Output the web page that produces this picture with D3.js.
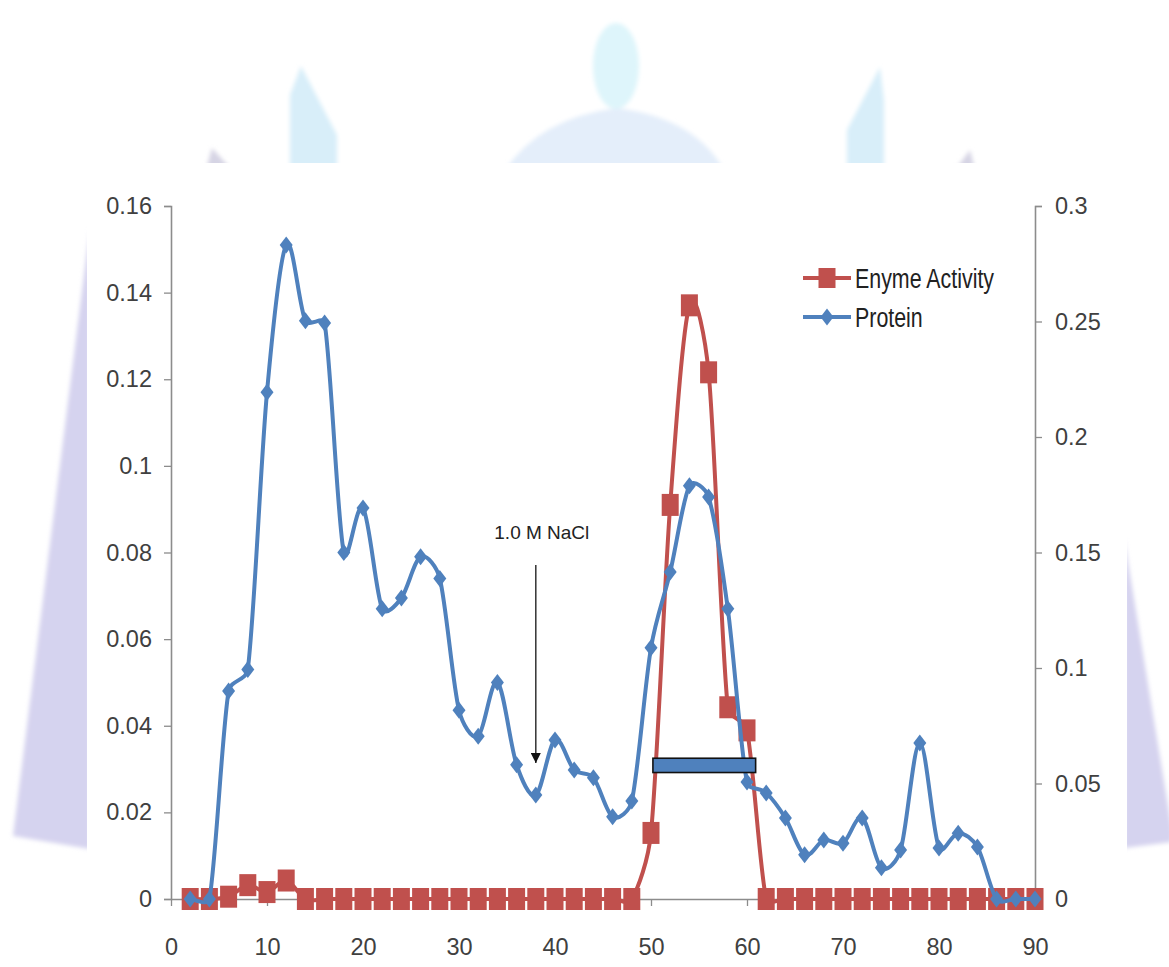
<!DOCTYPE html>
<html>
<head>
<meta charset="utf-8">
<script src="https://cdn.jsdelivr.net/npm/d3@7"></script>
<style>
  html, body { margin: 0; padding: 0; background: #ffffff; }
  svg { display: block; }
</style>
</head>
<body>
<svg id="chart" width="1169" height="967"></svg>
<script>
// Fraction numbers collected from the column
const fractions = [2, 4, 6, 8, 10, 12, 14, 16, 18, 20, 22, 24, 26, 28, 30, 32, 34, 36, 38, 40,
                   42, 44, 46, 48, 50, 52, 54, 56, 58, 60, 62, 64, 66, 68, 70, 72, 74, 76, 78, 80,
                   82, 84, 86, 88, 90];

// Protein absorbance per fraction (left axis)
const protein = [0, 0, 0.048, 0.053, 0.117, 0.151, 0.1335, 0.133, 0.080, 0.0903,
                 0.067, 0.0695, 0.079, 0.074, 0.0436, 0.0376, 0.050, 0.031, 0.024, 0.0367,
                 0.0298, 0.028, 0.019, 0.0226, 0.058, 0.0755, 0.0954, 0.0928, 0.067, 0.027,
                 0.0245, 0.0187, 0.0102, 0.0136, 0.0129, 0.0187, 0.0072, 0.0113, 0.036, 0.0118,
                 0.0152, 0.012, 0, 0, 0];

// Enzyme activity per fraction (right axis)
const enzymeActivity = [0, 0, 0.001, 0.006, 0.003, 0.008, 0, 0, 0, 0,
                        0, 0, 0, 0, 0, 0, 0, 0, 0, 0,
                        0, 0, 0, 0, 0.0286, 0.1706, 0.257, 0.228, 0.083, 0.073,
                        0, 0, 0, 0, 0, 0, 0, 0, 0, 0,
                        0, 0, 0, 0, 0];

const xTicks = [0, 10, 20, 30, 40, 50, 60, 70, 80, 90];
const leftTicks = [0, 0.02, 0.04, 0.06, 0.08, 0.1, 0.12, 0.14, 0.16];
const rightTicks = [0, 0.05, 0.1, 0.15, 0.2, 0.25, 0.3];

const seriesNames = ["Enyme Activity", "Protein"];
const saltLabel = "1.0 M NaCl";
const saltFraction = 38;            // salt step applied here
const saltArrowFrom = 0.0771;       // arrow start (left-axis units)
const saltArrowTo = 0.0314;         // arrow tip (left-axis units)
const poolRange = [50.2, 60.9];     // pooled active fractions
const poolBand = [0.0292, 0.0325];  // bar extent in left-axis units

const COLORS = { enzyme: "#c0504d", protein: "#4f81bd", axis: "#8c8c8c", text: "#404040" };
const FONT = "'Liberation Sans', Arial, sans-serif";

const svg = d3.select("#chart");

// ---- faint page artwork behind the chart ----
const defs = svg.append("defs");
defs.append("filter").attr("id", "soft")
  .append("feGaussianBlur").attr("stdDeviation", 2.2);

const art = svg.append("g").attr("filter", "url(#soft)");
// left and right lavender wedges
art.append("path").attr("d", "M90,228 L13,836 L90,849 Z").attr("fill", "#d5d3ef");
art.append("path").attr("d", "M1124,538 L1172,830 L1172,842 L1124,848 Z").attr("fill", "#d5d3ef");
// upper pale shapes: figure, spikes and small wedges
art.append("path").attr("d", "M505,170 Q540,118 617,108 Q695,118 724,170 Z").attr("fill", "#e4eefa");
art.append("ellipse").attr("cx", 616).attr("cy", 66).attr("rx", 23).attr("ry", 43).attr("fill", "#def5fb");
art.append("path").attr("d", "M290,170 L290,95 L301,66 L337,135 L337,170 Z").attr("fill", "#d8eef9");
art.append("path").attr("d", "M847,170 L847,130 L880,67 L884,100 L884,170 Z").attr("fill", "#d8eef9");
art.append("path").attr("d", "M206,170 L212,148 L230,168 Z").attr("fill", "#d6d4e4");
art.append("path").attr("d", "M955,170 L970,150 L975,170 Z").attr("fill", "#d6d4e4");

// white chart area
svg.append("rect").attr("x", 87).attr("y", 163).attr("width", 1040).attr("height", 804).attr("fill", "#ffffff");

// ---- scales ----
const x = d3.scaleLinear().domain([0, 90]).range([171, 1035]);
const yL = d3.scaleLinear().domain([0, 0.16]).range([899, 206]);
const yR = d3.scaleLinear().domain([0, 0.3]).range([899, 206]);

const fmt = d => String(+d.toFixed(2));

function styleAxis(g) {
  g.selectAll("path.domain").attr("stroke", COLORS.axis).attr("stroke-width", 1.6);
  g.selectAll(".tick line").attr("stroke", COLORS.axis).attr("stroke-width", 1.3);
  g.selectAll(".tick text").attr("fill", COLORS.text)
    .style("font-family", FONT).style("font-size", "23.5px");
}

svg.append("g").attr("transform", `translate(0,${yL(0)})`)
  .call(d3.axisBottom(x).tickValues(xTicks).tickFormat(d3.format("d"))
        .tickSizeInner(7).tickSizeOuter(0).tickPadding(32))
  .call(styleAxis);

svg.append("g").attr("transform", `translate(${x(0)},0)`)
  .call(d3.axisLeft(yL).tickValues(leftTicks).tickFormat(fmt)
        .tickSizeInner(7).tickSizeOuter(7).tickPadding(12))
  .call(styleAxis);

svg.append("g").attr("transform", `translate(${x(90)},0)`)
  .call(d3.axisRight(yR).tickValues(rightTicks).tickFormat(fmt)
        .tickSizeInner(7).tickSizeOuter(7).tickPadding(13))
  .call(styleAxis);

// ---- smoothed line: Catmull-Rom style handles (chord / 6), each handle
// limited to a share of its own segment so short segments don't overshoot ----
function smoothPath(pts, share = 0.4) {
  const p = d3.path();
  const n = pts.length;
  const dist = (a, b) => Math.hypot(b[0] - a[0], b[1] - a[1]);
  const handle = (i, dir) => {
    const a = pts[Math.max(0, i - 1)], b = pts[Math.min(n - 1, i + 1)];
    const chord = dist(a, b) || 1;
    const side = dist(pts[i], pts[i + dir]);
    const len = Math.min(chord / 6, side * share);
    return [dir * (b[0] - a[0]) / chord * len, dir * (b[1] - a[1]) / chord * len];
  };
  p.moveTo(pts[0][0], pts[0][1]);
  for (let i = 0; i < n - 1; i++) {
    const a = pts[i], b = pts[i + 1];
    const ha = handle(i, 1), hb = handle(i + 1, -1);
    p.bezierCurveTo(a[0] + ha[0], a[1] + ha[1], b[0] + hb[0], b[1] + hb[1], b[0], b[1]);
  }
  return p.toString();
}

// ---- series ----
const enzymePts = fractions.map((fr, i) => [x(fr), yR(enzymeActivity[i])]);
const proteinPts = fractions.map((fr, i) => [x(fr), yL(protein[i])]);

const SQ_W = 17, SQ_H = 22, DM_W = 13, DM_H = 17;
const diamond = (cx, cy) => `M${cx},${cy - DM_H / 2} L${cx + DM_W / 2},${cy} L${cx},${cy + DM_H / 2} L${cx - DM_W / 2},${cy} Z`;

svg.append("path").attr("d", smoothPath(enzymePts)).attr("fill", "none")
  .attr("stroke", COLORS.enzyme).attr("stroke-width", 4).attr("stroke-linejoin", "round");
svg.append("g").selectAll("rect").data(enzymePts).join("rect")
  .attr("x", d => d[0] - SQ_W / 2).attr("y", d => d[1] - SQ_H / 2)
  .attr("width", SQ_W).attr("height", SQ_H).attr("fill", COLORS.enzyme);

svg.append("path").attr("d", smoothPath(proteinPts)).attr("fill", "none")
  .attr("stroke", COLORS.protein).attr("stroke-width", 4).attr("stroke-linejoin", "round");
svg.append("g").selectAll("path").data(proteinPts).join("path")
  .attr("d", d => diamond(d[0], d[1])).attr("fill", COLORS.protein);

// ---- annotations ----
defs.append("marker").attr("id", "arrowHead").attr("viewBox", "0 0 10 10")
  .attr("refX", 10).attr("refY", 5).attr("markerWidth", 10).attr("markerHeight", 10)
  .attr("markerUnits", "userSpaceOnUse").attr("orient", "auto")
  .append("path").attr("d", "M0,0 L10,5 L0,10 Z").attr("fill", "#111");

svg.append("line")
  .attr("x1", x(saltFraction)).attr("x2", x(saltFraction))
  .attr("y1", yL(saltArrowFrom)).attr("y2", yL(saltArrowTo))
  .attr("stroke", "#333").attr("stroke-width", 1.5).attr("marker-end", "url(#arrowHead)");
svg.append("text").attr("x", x(saltFraction) + 6).attr("y", yL(saltArrowFrom) - 26)
  .attr("text-anchor", "middle").attr("fill", "#222")
  .style("font-family", FONT).style("font-size", "19px").text(saltLabel);

svg.append("rect")
  .attr("x", x(poolRange[0])).attr("y", yL(poolBand[1]))
  .attr("width", x(poolRange[1]) - x(poolRange[0]))
  .attr("height", yL(poolBand[0]) - yL(poolBand[1]))
  .attr("fill", COLORS.protein).attr("stroke", "#111").attr("stroke-width", 1.6);

// ---- legend ----
const legend = svg.append("g");
const legendRows = [
  { name: seriesNames[0], color: COLORS.enzyme, y: 278, marker: "square" },
  { name: seriesNames[1], color: COLORS.protein, y: 317, marker: "diamond" }
];
legendRows.forEach(r => {
  legend.append("line").attr("x1", 803).attr("x2", 851).attr("y1", r.y).attr("y2", r.y)
    .attr("stroke", r.color).attr("stroke-width", 4);
  if (r.marker === "square") {
    legend.append("rect").attr("x", 827 - SQ_W / 2).attr("y", r.y - 10).attr("width", SQ_W).attr("height", 20).attr("fill", r.color);
  } else {
    legend.append("path").attr("d", diamond(827, r.y)).attr("fill", r.color);
  }
  legend.append("text").attr("x", 855).attr("y", r.y)
    .attr("dy", "0.36em").attr("fill", "#222")
    .attr("transform", `translate(0,${r.y}) scale(1,1.3) translate(0,${-r.y})`)
    .style("font-family", FONT).style("font-size", "21.4px").text(r.name);
});
</script>
</body>
</html>
